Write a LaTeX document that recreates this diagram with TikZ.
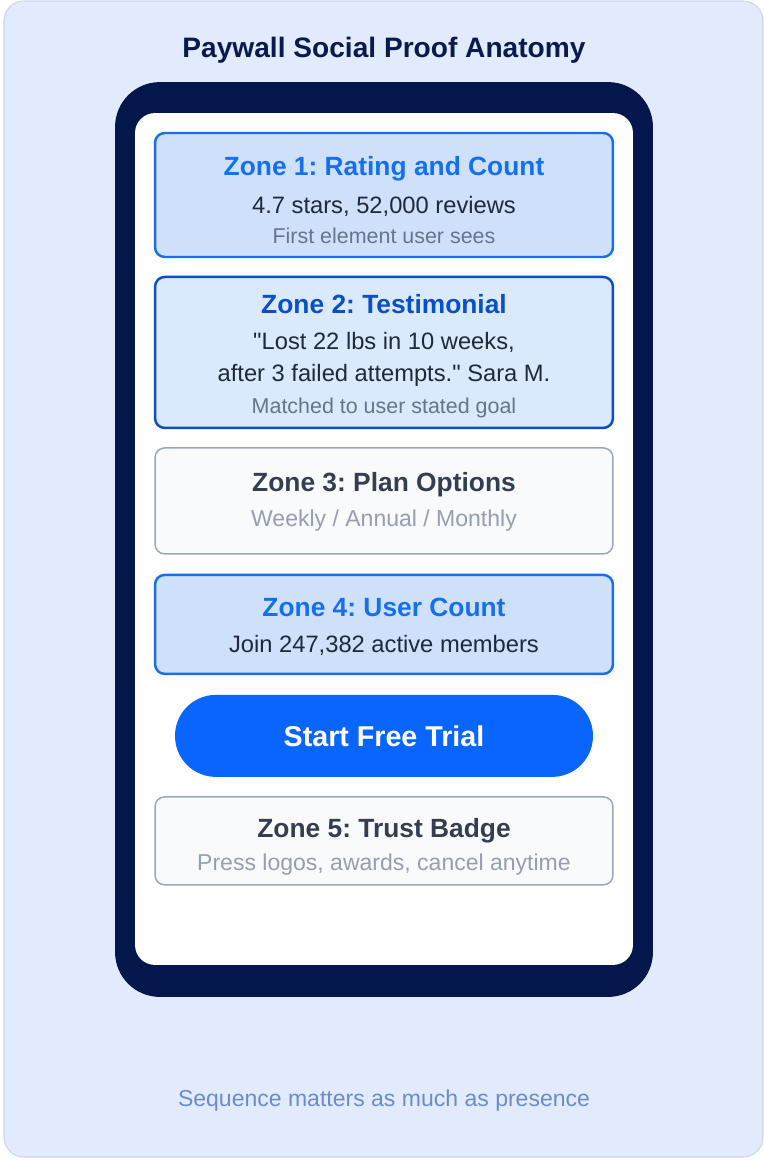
\documentclass[tikz,border=0pt]{standalone}
\usepackage{fontspec}
\setmainfont{Liberation Sans}
\frenchspacing
\usetikzlibrary{calc,positioning}

\definecolor{pagebg}{HTML}{E1EBFD}
\definecolor{pageline}{HTML}{CBD7EC}
\definecolor{navy}{HTML}{03174D}
\definecolor{headnavy}{HTML}{0B1A4E}
\definecolor{hiblue}{HTML}{1570EF}
\definecolor{hifill}{HTML}{CFE0FB}
\definecolor{deepblue}{HTML}{0B4FC6}
\definecolor{softfill}{HTML}{DBE9FD}
\definecolor{plainfill}{HTML}{F8FAFC}
\definecolor{plainline}{HTML}{9CA8BA}
\definecolor{plainhead}{HTML}{333F50}
\definecolor{plainsub}{HTML}{959FB2}
\definecolor{bodytext}{HTML}{1E293B}
\definecolor{subtext}{HTML}{66758B}
\definecolor{ctablue}{HTML}{0866FF}
\definecolor{foottext}{HTML}{6B8BCB}

\begin{document}
\begin{tikzpicture}[x=0.02cm,y=-0.02cm,every node/.style={outer sep=0pt},
  zone/.style={draw,rounded corners=5.5pt,minimum width=9.16cm,anchor=north,inner sep=0pt},
  hizone/.style={zone,fill=hifill,draw=hiblue,line width=1.4pt},
  plainzone/.style={zone,fill=plainfill,draw=plainline,line width=0.85pt},
  zonehead/.style={anchor=base,font=\fontsize{15pt}{18pt}\selectfont\bfseries},
  zonebody/.style={anchor=base,text=bodytext,font=\fontsize{13.5pt}{16pt}\selectfont},
  zonesub/.style={anchor=base,text=subtext,font=\fontsize{12.2pt}{15pt}\selectfont},
  plainsubtext/.style={anchor=base,text=plainsub,font=\fontsize{13.1pt}{16pt}\selectfont},
  node distance=0.4cm]

  \useasboundingbox (0,0) rectangle (764,1164);
  \fill [pagebg,draw=pageline,line width=0.6pt,rounded corners=11.3pt] (4,1) rectangle (763,1157);

  \node [anchor=base,text=headnavy,font=\fontsize{16pt}{19pt}\selectfont\bfseries] at(384,57) (title) {Paywall Social Proof Anatomy};

  \node [fill=navy,rounded corners=25.5pt,minimum width=10.76cm,minimum height=18.3cm] at(384,539.5) (phone) {};
  \node [fill=white,rounded corners=11.3pt,minimum width=9.96cm,minimum height=17.04cm] at(384,539) (screen) {};

  %zones, top to bottom
  \node [hizone,minimum height=2.48cm] at(384,133) (zone1) {};
  \node [hizone,fill=softfill,draw=deepblue,minimum height=3.02cm,below=of zone1] (zone2) {};
  \node [plainzone,minimum height=2.12cm,below=of zone2] (zone3) {};
  \node [hizone,minimum height=1.98cm,below=0.42cm of zone3] (zone4) {};
  \node [fill=ctablue,rounded corners=23.2pt,minimum width=8.36cm,minimum height=1.64cm,below=0.42cm of zone4,text=white,font=\fontsize{16.3pt}{19pt}\selectfont\bfseries] (cta) {Start Free Trial};
  \node [plainzone,minimum height=1.76cm,below=of cta] (zone5) {};

  \node [zonehead,text=hiblue] at($(zone1.north)+(0,42)$) (zone1_head) {Zone 1: Rating and Count};
  \node [zonebody] at($(zone1.north)+(0,80)$) (zone1_body) {4.7 stars, 52,000 reviews};
  \node [zonesub] at($(zone1.north)+(0,110)$) (zone1_sub) {First element user sees};

  \node [zonehead,text=deepblue] at($(zone2.north)+(0,37)$) (zone2_head) {Zone 2: Testimonial};
  \node [zonebody] at($(zone2.north)+(0,73)$) (zone2_quote) {\textquotedbl Lost 22 lbs in 10 weeks,};
  \node [zonebody] at($(zone2.north)+(0,105)$) (zone2_quote_b) {after 3 failed attempts.\textquotedbl{} Sara M.};
  \node [zonesub] at($(zone2.north)+(0,137)$) (zone2_sub) {Matched to user stated goal};

  \node [zonehead,text=plainhead] at($(zone3.north)+(0,44)$) (zone3_head) {Zone 3: Plan Options};
  \node [plainsubtext] at($(zone3.north)+(0,79)$) (zone3_sub) {Weekly / Annual / Monthly};

  \node [zonehead,text=hiblue] at($(zone4.north)+(0,42)$) (zone4_head) {Zone 4: User Count};
  \node [zonebody] at($(zone4.north)+(0,78)$) (zone4_body) {Join 247,382 active members};

  \node [zonehead,text=plainhead] at($(zone5.north)+(0,41)$) (zone5_head) {Zone 5: Trust Badge};
  \node [plainsubtext] at($(zone5.north)+(0,74)$) (zone5_sub) {Press logos, awards, cancel anytime};

  \node [anchor=base,text=foottext,font=\fontsize{13.1pt}{16pt}\selectfont] at(384,1106) (footer) {Sequence matters as much as presence};

\end{tikzpicture}
\end{document}
